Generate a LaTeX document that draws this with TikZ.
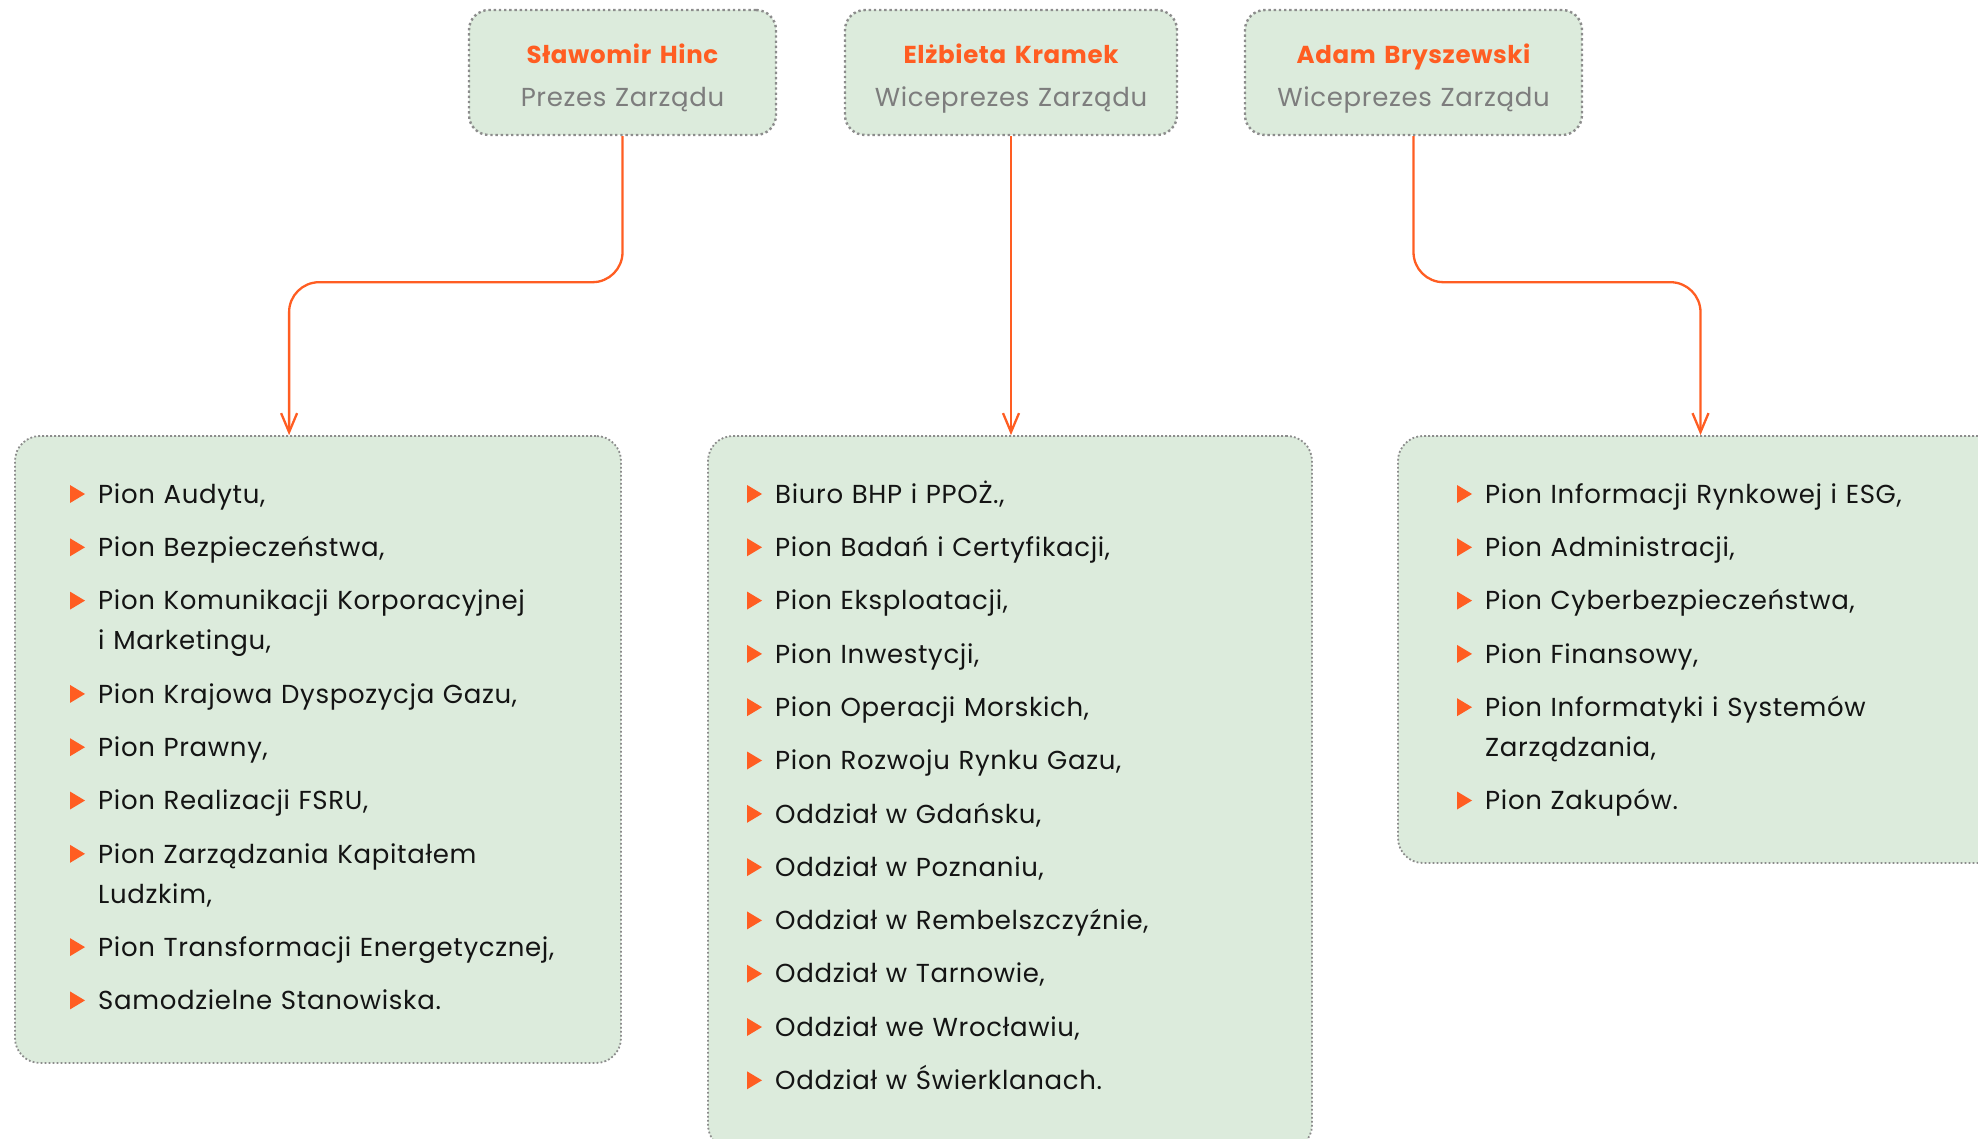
\documentclass[tikz,border=0pt]{standalone}
\usepackage{fontspec}
\setmainfont{Poppins}[LetterSpace=2.6]
\usetikzlibrary{positioning,arrows.meta}

\definecolor{accent}{RGB}{255,93,34}
\definecolor{boxfill}{RGB}{220,235,220}
\definecolor{dotgray}{RGB}{140,140,140}
\definecolor{titlegray}{RGB}{125,125,125}
\definecolor{ink}{RGB}{20,20,20}

\newcommand\boardname[1]{{\fontsize{24.5}{43}\selectfont\bfseries\color{accent}#1}}

\tikzset{
  person/.style={draw=dotgray, line width=2.4pt, dash pattern=on 2.4pt off 2.8pt,
    fill=boxfill, rounded corners=20pt, minimum height=125pt, inner sep=0pt,
    text width=#1, align=center, text=titlegray, font=\fontsize{26}{43}\selectfont,
    execute at begin node={\rule{0pt}{38pt}}, execute at end node=\strut},
  group/.style={draw=dotgray, line width=1.8pt, dash pattern=on 1.8pt off 2.2pt,
    fill=boxfill, rounded corners=25pt, inner sep=0pt},
  entry/.style={text width=500pt, inner sep=0pt, align=left, text=ink,
    font=\fontsize{26}{40}\selectfont,
    execute at begin node=\strut, execute at end node=\strut},
  link/.style={draw=accent, line width=2.3pt, rounded corners=30pt,
    -{Straight Barb[length=19pt,width=16pt]}},
  bullet/.style={fill=accent},
}

\begin{document}
\begin{tikzpicture}[x=1pt,y=1pt]
\useasboundingbox (0,0) rectangle (1978,-1139);
\clip (0,0) rectangle (1978,-1139);

% Board
\node[person=307pt] (hinc) at (622.5,-72.5)
  {\boardname{Sławomir Hinc}\\Prezes Zarządu};
\node[person=332pt] (kramek) at (1011,-72.5)
  {\boardname{Elżbieta Kramek}\\Wiceprezes Zarządu};
\node[person=337pt] (bryszewski) at (1413.5,-72.5)
  {\boardname{Adam Bryszewski}\\Wiceprezes Zarządu};

% Groups
\node[group, minimum width=606pt, minimum height=627pt] (grp1) at (318,-749.5) {};
\node[group, minimum width=604pt, minimum height=714pt] (grp2) at (1010,-793) {};
\node[group, minimum width=605pt, minimum height=427pt] (grp3) at (1700.5,-649.5) {};

% Links
\coordinate (in1) at ([xshift=275pt]grp1.north west);
\draw[link] (hinc.south) -- ++(0,-146) -| (in1);
\draw[link] (kramek.south) -- (kramek.south |- grp2.north);
\draw[link] (bryszewski.south) -- ++(0,-146) -| (grp3.north);

% Left list
\node[entry, anchor=north west] (a1) at (98,-475) {Pion Audytu,};
\foreach \txt [count=\i from 2, remember=\i as \j (initially 1)] in {
    {Pion Bezpieczeństwa,},
    {Pion Komunikacji Korporacyjnej\\i Marketingu,},
    {Pion Krajowa Dyspozycja Gazu,},
    {Pion Prawny,},
    {Pion Realizacji FSRU,},
    {Pion Zarządzania Kapitałem\\Ludzkim,},
    {Pion Transformacji Energetycznej,},
    {Samodzielne Stanowiska.}} {
    \node[entry, below=12.9pt of a\j] (a\i) {\txt};
}

% Middle list
\node[entry, anchor=north west] (b1) at (775,-475) {Biuro BHP i PPOŻ.,};
\foreach \txt [count=\i from 2, remember=\i as \j (initially 1)] in {
    {Pion Badań i Certyfikacji,},
    {Pion Eksploatacji,},
    {Pion Inwestycji,},
    {Pion Operacji Morskich,},
    {Pion Rozwoju Rynku Gazu,},
    {Oddział w Gdańsku,},
    {Oddział w Poznaniu,},
    {Oddział w Rembelszczyźnie,},
    {Oddział w Tarnowie,},
    {Oddział we Wrocławiu,},
    {Oddział w Świerklanach.}} {
    \node[entry, below=12.9pt of b\j] (b\i) {\txt};
}

% Right list
\node[entry, anchor=north west] (c1) at (1485,-475) {Pion Informacji Rynkowej i ESG,};
\foreach \txt [count=\i from 2, remember=\i as \j (initially 1)] in {
    {Pion Administracji,},
    {Pion Cyberbezpieczeństwa,},
    {Pion Finansowy,},
    {Pion Informatyki i Systemów\\Zarządzania,},
    {Pion Zakupów.}} {
    \node[entry, below=12.9pt of c\j] (c\i) {\txt};
}

% Bullets
\foreach \i in {1,...,9}
  \fill[bullet] ([shift={(-28,-10)}]a\i.north west) -- ++(0,-18) -- ++(15,9) -- cycle;
\foreach \i in {1,...,12}
  \fill[bullet] ([shift={(-28,-10)}]b\i.north west) -- ++(0,-18) -- ++(15,9) -- cycle;
\foreach \i in {1,...,6}
  \fill[bullet] ([shift={(-28,-10)}]c\i.north west) -- ++(0,-18) -- ++(15,9) -- cycle;
\end{tikzpicture}
\end{document}
